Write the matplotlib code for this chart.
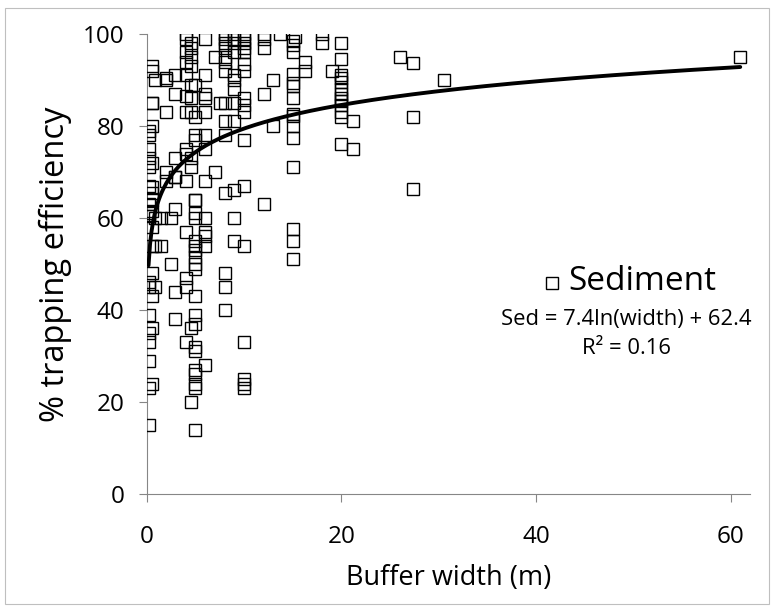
import numpy as np
import matplotlib
matplotlib.use("Agg")
import matplotlib.pyplot as plt
from matplotlib.patches import Rectangle
from matplotlib.lines import Line2D

plt.rcParams['font.family'] = ['Open Sans', 'DejaVu Sans']

# ---- data ----
col_x = [0.2, 0.5, 0.8, 1.5, 2.0, 2.5, 2.9, 4.0, 4.5, 5.0, 6.0, 7.0, 7.5,
         8.0, 9.0, 10.0, 12.0, 13.0, 13.7, 15.0, 15.2, 16.3, 18.0, 19.0,
         20.0, 21.2, 26.0, 27.4, 30.5, 61.0]
col_y = [
    [15, 23, 29, 33, 35, 39, 45, 46, 60.5, 61, 63, 67, 71, 73, 75, 78, 79],
    [24, 36, 43, 48, 54, 58, 61.5, 64, 65.5, 66.7, 72, 80, 85, 85, 92, 93],
    [45, 54, 60, 90],
    [54, 60],
    [90, 83, 70, 68, 90.5],
    [50, 60],
    [91, 87, 73, 69, 68.8, 62, 44, 38],
    [100, 99, 96, 94, 91, 86.6, 83, 75, 74, 68, 57, 47, 45, 33],
    [98, 97, 95, 93, 89, 86, 83, 73, 71, 36, 20],
    [89, 82, 78, 77, 64, 64, 61, 60, 55, 54, 53, 51.5, 50, 49, 43, 39, 37,
     32, 31, 27, 26, 24, 23, 14],
    [99, 91, 87, 86, 83, 78, 75, 68, 60, 57, 56, 54, 28],
    [95, 70],
    [85],
    [100, 99, 97, 98, 95, 94, 92, 85, 81, 78, 65.5, 48, 45, 40],
    [100, 99, 98, 96, 91, 90, 88, 85, 81, 66, 60, 55],
    [100, 99, 98, 97, 96, 93.5, 92, 86, 84.5, 83, 77, 67, 54, 33, 25, 24, 23],
    [100, 99, 97, 87, 63],
    [90, 80],
    [100],
    [98.4, 97.7, 96, 91.2, 89.3, 88.6, 86.1, 82.5, 82.1, 80, 77.4, 71, 57.5,
     55, 51],
    [99.3],
    [94, 92],
    [100, 98],
    [92],
    [98, 94.6, 91, 90.5, 89.5, 88, 87, 86, 85.5, 84.5, 83, 82, 76],
    [81, 75],
    [95],
    [93.6, 82, 66.3],
    [90],
    [95],
]

buffer_width = [x for x, ys in zip(col_x, col_y) for _ in ys]
trapping_eff = [y for ys in col_y for y in ys]

fit_a, fit_b = 7.4, 62.4
fit_xmin, fit_xmax = 0.18, 61.0

x_ticks = [0, 20, 40, 60]
y_ticks = [0, 20, 40, 60, 80, 100]

# ---- figure ----
fig = plt.figure(figsize=(7.75, 6.11), dpi=100)
ax = fig.add_axes([0.1894, 0.1915, 0.7783, 0.7529])

ms, mew = 8.3, 1.0
ax.plot(buffer_width, trapping_eff, linestyle='none', marker='s',
        markersize=ms, markerfacecolor='none', markeredgecolor='black',
        markeredgewidth=mew, zorder=3)

xf = np.linspace(fit_xmin, fit_xmax, 400)
ax.plot(xf, fit_a * np.log(xf) + fit_b, color='black', lw=2.8,
        solid_capstyle='round', zorder=4)

ax.set_xlim(0, 62)
ax.set_ylim(0, 100)
ax.set_xticks(x_ticks)
ax.set_yticks(y_ticks)
ax.tick_params(axis='both', direction='out', length=6, width=0.8,
               color='#868686', labelsize=17.5)
ax.tick_params(axis='y', pad=10)
ax.tick_params(axis='x', pad=16)
for s in ['top', 'right']:
    ax.spines[s].set_visible(False)
for s in ['left', 'bottom']:
    ax.spines[s].set_color('#868686')
    ax.spines[s].set_linewidth(0.8)

ax.set_xlabel('Buffer width (m)', fontsize=19.5, labelpad=11)
ax.set_ylabel('% trapping efficiency', fontsize=23.5, labelpad=8)

# legend-like annotation
leg_marker = Line2D([552 / 775], [1 - 282.5 / 611], transform=fig.transFigure,
                    marker='s', markersize=ms, markerfacecolor='none',
                    markeredgecolor='black', markeredgewidth=mew,
                    linestyle='none')
fig.add_artist(leg_marker)
fig.text(568 / 775, 1 - 282 / 611, 'Sediment', fontsize=24,
         ha='left', va='center')
fig.text(626 / 775, 1 - 319.6 / 611, 'Sed = 7.4ln(width) + 62.4',
         fontsize=15.8, ha='center', va='center')
fig.text(626 / 775, 1 - 348 / 611, 'R² = 0.16',
         fontsize=15.8, ha='center', va='center')

fig.add_artist(Rectangle((0.006, 0.012), 0.986, 0.975,
                         transform=fig.transFigure, fill=False,
                         edgecolor='#bfbfbf', linewidth=0.8))

fig.savefig('out.png', dpi=100)
